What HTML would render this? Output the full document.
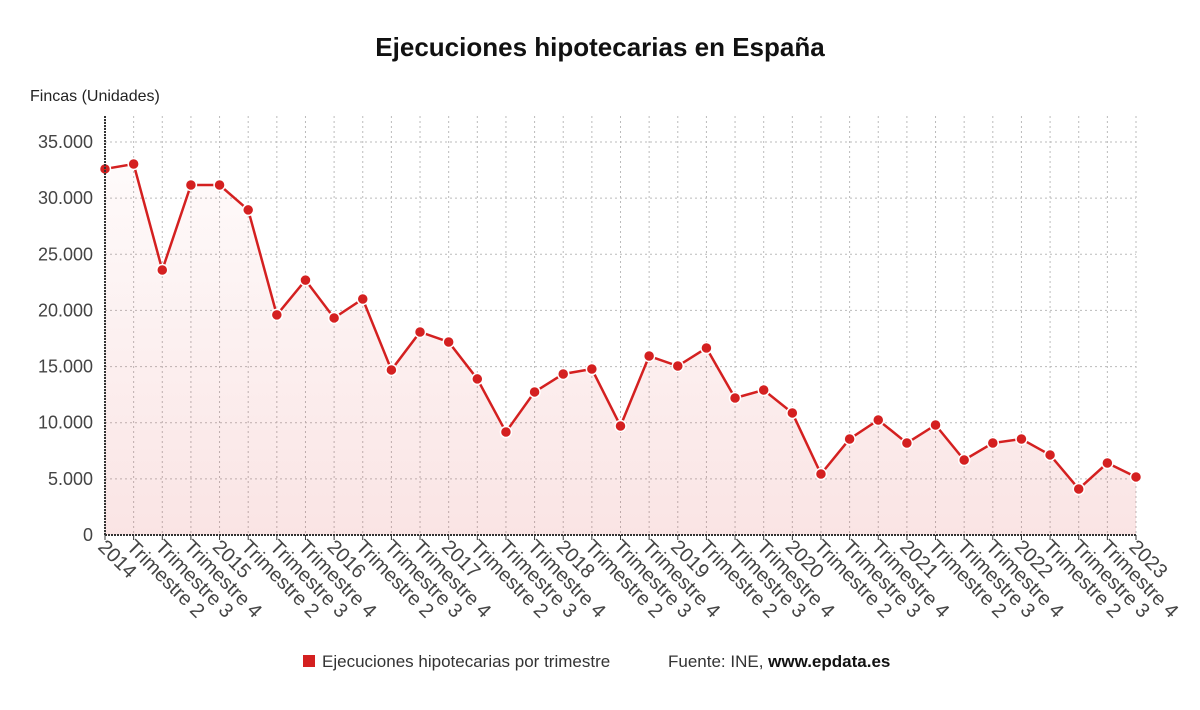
<!DOCTYPE html>
<html><head><meta charset="utf-8"><style>
body{margin:0;background:#fff;font-family:"Liberation Sans","DejaVu Sans",sans-serif;}
svg text{font-family:"Liberation Sans","DejaVu Sans",sans-serif;}
</style></head><body>
<svg id="c" width="1200" height="705">
<defs><linearGradient id="g" x1="0" y1="0" x2="0" y2="1"><stop offset="0" stop-color="#d42020" stop-opacity="0.02"/><stop offset="1" stop-color="#d42020" stop-opacity="0.12"/></linearGradient></defs>
<text x="600" y="56" text-anchor="middle" font-size="26" font-weight="bold" fill="#111">Ejecuciones hipotecarias en España</text>
<text x="30" y="101" font-size="16" fill="#222">Fincas (Unidades)</text>
<g id="grid"></g><g id="marks"></g><g id="axes"></g>
<g>
<rect x="303" y="655" width="12" height="12" fill="#d42020"/>
<text x="322" y="667" font-size="17" fill="#333">Ejecuciones hipotecarias por trimestre</text>
<text x="668" y="667" font-size="17" fill="#333">Fuente: INE, <tspan font-weight="bold" fill="#111">www.epdata.es</tspan></text>
</g>
</svg>
<script>
const categories=["2014","Trimestre 2","Trimestre 3","Trimestre 4","2015","Trimestre 2","Trimestre 3","Trimestre 4","2016","Trimestre 2","Trimestre 3","Trimestre 4","2017","Trimestre 2","Trimestre 3","Trimestre 4","2018","Trimestre 2","Trimestre 3","Trimestre 4","2019","Trimestre 2","Trimestre 3","Trimestre 4","2020","Trimestre 2","Trimestre 3","Trimestre 4","2021","Trimestre 2","Trimestre 3","Trimestre 4","2022","Trimestre 2","Trimestre 3","Trimestre 4","2023"];
const values=[32600,33040,23600,31170,31170,28950,19600,22700,19330,21020,14700,18080,17190,13900,9170,12740,14340,14780,9710,15940,15050,16650,12200,12910,10870,5430,8550,10240,8190,9800,6680,8190,8550,7130,4100,6410,5170];
const yTicks=[0,5000,10000,15000,20000,25000,30000,35000];
const yTickLabels=["0","5.000","10.000","15.000","20.000","25.000","30.000","35.000"];
const NS="http://www.w3.org/2000/svg";
const x0=105,x1=1136,y0=535,yTop=116;
const xs=i=>x0+(x1-x0)*i/(categories.length-1);
const ys=v=>y0-v*(393/35000);
function mk(t,a,p){const e=document.createElementNS(NS,t);for(const k in a)e.setAttribute(k,a[k]);p.appendChild(e);return e;}
const grid=document.getElementById('grid'),marks=document.getElementById('marks'),axes=document.getElementById('axes');
categories.forEach((c,i)=>{const l=mk('line',{x1:xs(i),x2:xs(i),y1:yTop,y2:y0,stroke:'#bbb','stroke-dasharray':'2,3'},grid);


const x=xs(i),y=548;
const t=mk('text',{x:x-8,y:y,'font-size':20,fill:'#444',transform:`rotate(45 ${x-8} ${y})`},axes);t.textContent=c;


const tk=mk('line',{x1:x,x2:x,y1:y0,y2:y0+5,stroke:'#333'},axes);

});
yTicks.forEach((v,i)=>{if(v>0){const l=mk('line',{x1:x0,x2:x1,y1:ys(v),y2:ys(v),stroke:'#bbb','stroke-dasharray':'2,3'},grid);

}
const t=mk('text',{x:93,y:ys(v)+6,'text-anchor':'end','font-size':18,fill:'#444'},axes);t.textContent=yTickLabels[i];

});
let d=values.map((v,i)=>(i?'L':'M')+xs(i)+','+ys(v)).join('');
const area=mk('path',{d:d+`L${xs(values.length-1)},${y0}L${x0},${y0}Z`,fill:'url(#g)'},marks);


const line=mk('path',{d:d,fill:'none',stroke:'#d42020','stroke-width':2.5},marks);


values.forEach((v,i)=>{const p=mk('circle',{cx:xs(i),cy:ys(v),r:5.5,fill:'#d42020',stroke:'#fff','stroke-width':1.5},marks);

});
const ya=mk('line',{x1:x0,x2:x0,y1:yTop,y2:y0,stroke:'#333','stroke-width':2,'stroke-dasharray':'2,1'},axes);


const xa=mk('line',{x1:x0,x2:x1,y1:y0,y2:y0,stroke:'#333','stroke-width':2,'stroke-dasharray':'2,1'},axes);


</script>
</body></html>
